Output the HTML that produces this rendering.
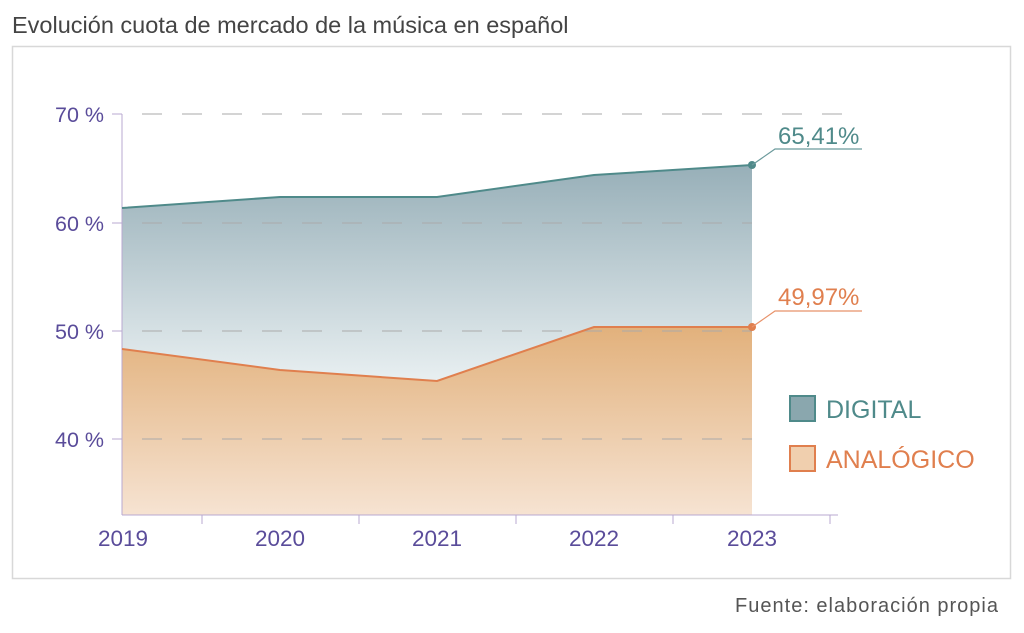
<!DOCTYPE html>
<html><head><meta charset="utf-8"><style>
body{margin:0;background:#fff;width:1024px;height:628px;overflow:hidden;font-family:"Liberation Sans",sans-serif}
</style></head><body>
<svg width="1024" height="628" viewBox="0 0 1024 628" xmlns="http://www.w3.org/2000/svg" font-family="Liberation Sans, sans-serif">
<defs>
<linearGradient id="gd" x1="0" y1="165" x2="0" y2="380" gradientUnits="userSpaceOnUse">
<stop offset="0" stop-color="#97afb8"/><stop offset="1" stop-color="#e8eff1"/></linearGradient>
<linearGradient id="ga" x1="0" y1="327" x2="0" y2="515" gradientUnits="userSpaceOnUse">
<stop offset="0" stop-color="#e2b17c"/><stop offset="1" stop-color="#f6e3d2"/></linearGradient>
</defs>
<text x="12" y="33" font-size="23.5" fill="#444">Evolución cuota de mercado de la música en español</text>
<rect x="12.5" y="46.5" width="998" height="532" fill="none" stroke="#d8d8d8" stroke-width="1.5"/>
<path d="M122,208 L280,197 L437,197 L594,175 L752,165 L752,515 L122,515Z" fill="url(#gd)"/>
<path d="M122,349 L280,370 L437,381 L594,327 L752,327 L752,515 L122,515Z" fill="url(#ga)"/>
<g stroke="#aaa" stroke-width="1" stroke-dasharray="20,20">
<line x1="142" y1="114" x2="862" y2="114"/><line x1="142" y1="223" x2="752" y2="223"/><line x1="142" y1="331" x2="752" y2="331"/><line x1="142" y1="439" x2="752" y2="439"/>
</g>
<g stroke="#b8a8d0" stroke-width="1">
<line x1="122" y1="114" x2="122" y2="515"/><line x1="112" y1="114" x2="122" y2="114"/><line x1="112" y1="223" x2="122" y2="223"/><line x1="112" y1="331" x2="122" y2="331"/><line x1="112" y1="439" x2="122" y2="439"/>
<line x1="122" y1="515" x2="838" y2="515"/>
<line x1="202" y1="515" x2="202" y2="524"/><line x1="359" y1="515" x2="359" y2="524"/><line x1="516" y1="515" x2="516" y2="524"/><line x1="673" y1="515" x2="673" y2="524"/><line x1="830" y1="515" x2="830" y2="524"/>
</g>
<polyline points="122,208 280,197 437,197 594,175 752,165" fill="none" stroke="#4f8a8a" stroke-width="2"/>
<polyline points="122,349 280,370 437,381 594,327 752,327" fill="none" stroke="#e07f4e" stroke-width="2"/>
<circle cx="752" cy="165" r="4" fill="#4f8a8a"/><circle cx="752" cy="327" r="4" fill="#e07f4e"/>
<polyline points="752,165 775,149 862,149" fill="none" stroke="#6b9a9c" stroke-width="1.2"/>
<polyline points="752,327 775,311 862,311" fill="none" stroke="#e8926a" stroke-width="1.2"/>
<text x="778" y="144" font-size="24" fill="#4f8a8a">65,41%</text>
<text x="778" y="305" font-size="24" fill="#e07f4e">49,97%</text>
<g font-size="21.5" fill="#5a4c9a" text-anchor="end">
<text x="104" y="122">70 %</text><text x="104" y="231">60 %</text><text x="104" y="339">50 %</text><text x="104" y="447">40 %</text>
</g>
<g font-size="22.5" fill="#5a4c9a" text-anchor="middle">
<text x="123" y="546">2019</text><text x="280" y="546">2020</text><text x="437" y="546">2021</text><text x="594" y="546">2022</text><text x="752" y="546">2023</text>
</g>
<rect x="790" y="396" width="25" height="25" fill="#8aa7ae" stroke="#4f8a8a" stroke-width="2"/>
<text x="826" y="418" font-size="25" fill="#4f8a8a">DIGITAL</text>
<rect x="790" y="446" width="25" height="25" fill="#f0cfae" stroke="#e07f4e" stroke-width="2"/>
<text x="826" y="468" font-size="25" fill="#e07f4e">ANALÓGICO</text>
<text x="999" y="612" font-size="20" letter-spacing="1" fill="#555" text-anchor="end">Fuente: elaboración propia</text>
</svg>
</body></html>
